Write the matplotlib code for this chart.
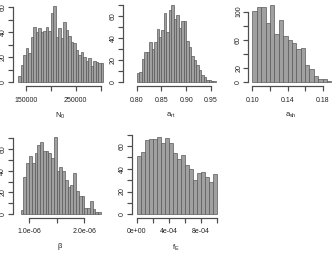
import matplotlib
matplotlib.use("Agg")
import matplotlib.pyplot as plt
import numpy as np

plt.rcParams["font.family"] = ["Liberation Sans", "DejaVu Sans"]
plt.rcParams["mathtext.fontset"] = "custom"
plt.rcParams["mathtext.rm"] = "Liberation Sans"
plt.rcParams["mathtext.it"] = "Liberation Sans"

# histogram counts
n0_start, n0_width = 135000, 5000
n0_counts = [5, 14, 22, 27, 23, 36, 44, 40, 43, 40, 41, 44, 41, 55, 61, 36, 43,
             35, 48, 42, 37, 32, 31, 26, 22, 24, 20, 17, 19, 13, 17, 16, 15, 15]

art_start, art_width = 0.80, 0.005
art_counts = [8, 9, 21, 27, 27, 36, 30, 36, 48, 41, 47, 62, 45, 65, 70, 57,
              61, 49, 55, 55, 37, 32, 24, 20, 16, 11, 7, 5, 2, 2, 1, 1]

ash_start, ash_width = 0.10, 0.005
ash_counts = [101, 107, 106, 84, 109, 68, 88, 65, 60, 55, 47, 48, 25, 19, 9, 4, 4, 2]

beta_start, beta_width = 0.85e-6, 0.05e-6
beta_counts = [4, 34, 47, 53, 47, 56, 64, 66, 58, 58, 56, 52, 71, 40, 43, 40,
               31, 25, 27, 38, 21, 17, 17, 6, 6, 12, 5, 2, 2]

fe_start, fe_width = 0.0, 5e-5
fe_counts = [51, 55, 65, 66, 66, 68, 63, 67, 63, 54, 49, 52, 43, 40, 30, 36,
             37, 33, 28, 35]

panels = [
    dict(start=n0_start, width=n0_width, counts=n0_counts, label=r"$\mathrm{N_0}$",
         xticks=[150000, 200000, 250000, 300000], xlabels=["150000", "", "250000", ""],
         yticks=[0, 10, 20, 30, 40, 50, 60], ylabels=["0", "", "20", "", "40", "", "60"],
         box=(13, 107, 3, 86), xlim=(124600, 312600), ylim=(-2.95, 63.2)),
    dict(start=art_start, width=art_width, counts=art_counts, label=r"$\mathrm{a_{rt}}$",
         xticks=[0.80, 0.85, 0.90, 0.95], xlabels=["0.80", "0.85", "0.90", "0.95"],
         yticks=list(range(0, 71, 10)), ylabels=["0", "", "20", "", "40", "", "60", ""],
         box=(123.3, 219, 3, 86), xlim=(0.7729, 0.9662), ylim=(-3.33, 71.4)),
    dict(start=ash_start, width=ash_width, counts=ash_counts, label=r"$\mathrm{a_{sh}}$",
         xticks=[0.10, 0.12, 0.14, 0.16, 0.18], xlabels=["0.10", "", "0.14", "", "0.18"],
         yticks=list(range(0, 101, 20)), ylabels=["0", "20", "", "60", "", "100"],
         box=(248.5, 334, 3, 86), xlim=(0.09543, 0.19314), ylim=(-5.24, 112.3)),
    dict(start=beta_start, width=beta_width, counts=beta_counts, label="β",
         xticks=[1.0e-6, 1.5e-6, 2.0e-6], xlabels=["1.0e-06", "", "2.0e-06"],
         yticks=list(range(0, 71, 10)), ylabels=["0", "", "20", "", "40", "", "60", ""],
         box=(12.7, 107, 134.7, 217.7), xlim=(0.7052e-6, 2.4105e-6), ylim=(-3.15, 73.0)),
    dict(start=fe_start, width=fe_width, counts=fe_counts, label=r"$\mathrm{f_E}$",
         xticks=[0, 2e-4, 4e-4, 6e-4, 8e-4, 1e-3],
         xlabels=["0e+00", "", "4e-04", "", "8e-04", ""],
         yticks=list(range(0, 71, 10)), ylabels=["0", "", "20", "", "40", "", "60", ""],
         box=(132.3, 220, 131.5, 217.7), xlim=(-5.5e-5, 1.0413e-3), ylim=(-2.99, 72.8)),
]

W, H = 334, 254
AXIS_COLOR = "#4d4d4d"
fig = plt.figure(figsize=(W / 100, H / 100), dpi=100)

for p in panels:
    l, r, t, b = p["box"]
    ax = fig.add_axes([l / W, (H - b) / H, (r - l) / W, (b - t) / H])
    counts = np.array(p["counts"])
    lefts = p["start"] + p["width"] * np.arange(len(counts))
    ax.bar(lefts, counts, width=p["width"], align="edge",
           color="#a0a0a0", edgecolor="#5a5a5a", linewidth=0.5)
    ax.set_xlim(*p["xlim"])
    ax.set_ylim(*p["ylim"])
    ax.spines[["top", "right"]].set_visible(False)
    # R style axes: line only spans the tick range
    ax.spines["bottom"].set_bounds(p["xticks"][0], p["xticks"][-1])
    ax.spines["left"].set_bounds(p["yticks"][0], p["yticks"][-1])
    for s in ["bottom", "left"]:
        ax.spines[s].set_linewidth(0.8)
        ax.spines[s].set_edgecolor(AXIS_COLOR)
    ax.set_xticks(p["xticks"])
    ax.set_xticklabels(p["xlabels"])
    ax.set_yticks(p["yticks"])
    ax.set_yticklabels(p["ylabels"], rotation=90, va="center")
    ax.tick_params(axis="both", length=2.6, width=0.8, color=AXIS_COLOR,
                   labelsize=5, labelcolor="#222222")
    ax.tick_params(axis="x", pad=5.0)
    ax.tick_params(axis="y", pad=2.0)
    ax.set_xlabel(p["label"], fontsize=5.5, color="#222222", labelpad=5.5)

    # axis lines and tick marks drawn as plain artists as well
    xt, yt = p["xticks"], p["yticks"]
    xtr, ytr = ax.get_xaxis_transform(), ax.get_yaxis_transform()
    ax.plot([xt[0], xt[-1]], [0, 0], transform=xtr, color=AXIS_COLOR,
            lw=0.8, clip_on=False, zorder=6)
    ax.plot(xt, [0] * len(xt), transform=xtr, linestyle="none", marker=3,
            markersize=3.6, markeredgewidth=0.8, color=AXIS_COLOR,
            clip_on=False, zorder=6)
    ax.plot([0, 0], [yt[0], yt[-1]], transform=ytr, color=AXIS_COLOR,
            lw=0.8, clip_on=False, zorder=6)
    ax.plot([0] * len(yt), yt, transform=ytr, linestyle="none", marker=0,
            markersize=3.6, markeredgewidth=0.8, color=AXIS_COLOR,
            clip_on=False, zorder=6)

fig.savefig("out.png", dpi=100)
